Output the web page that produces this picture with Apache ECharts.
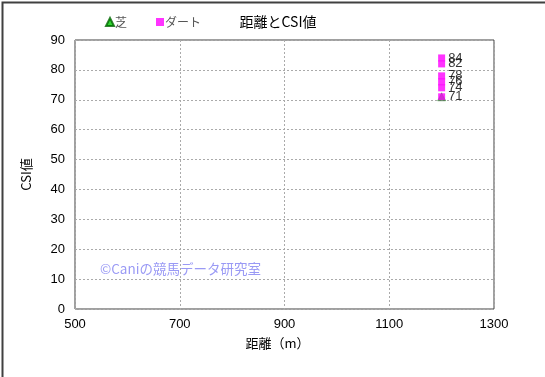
<!DOCTYPE html>
<html><head><meta charset="utf-8">
<script src="https://cdn.jsdelivr.net/npm/echarts@6/dist/echarts.min.js"></script>
<style>html,body{margin:0;padding:0;background:#fff}#c{width:545px;height:377px}</style>
</head><body><div id="c"></div>
<script>
const title = '距離とCSI値';
const seriesNames = ['芝', 'ダート'];
const turfDist = [1200];
const turfCsi = [71];
const dartDist = [1200, 1200, 1200, 1200, 1200, 1200];
const dartCsi = [84, 82, 78, 76, 74, 71];
const xName = '距離（m）';
const yName = 'CSI値';
const watermark = '©Caniの競馬データ研究室';

const font = '"Noto Sans CJK JP", "Liberation Sans", sans-serif';
const chart = echarts.init(document.getElementById('c'), null, {renderer: 'canvas'});
const pairs = (xs, ys) => xs.map((x, i) => [x, ys[i]]);
chart.setOption({
  animation: false,
  textStyle: {fontFamily: font},
  title: {text: title, left: 273, top: 10, textAlign: 'center',
    textStyle: {fontSize: 14, fontWeight: 'normal', color: '#000', fontFamily: font}},
  legend: {left: 100, top: 11, itemWidth: 8, itemHeight: 8, itemGap: 29,
    textStyle: {fontSize: 12, color: '#555', fontFamily: font, padding: [0,0,0,-4]},
    data: [{name: seriesNames[0], icon: 'triangle'}, {name: seriesNames[1], icon: 'rect'}]},
  grid: {left: 75, right: 51, top: 40, bottom: 68, show: true, borderColor: '#404040', borderWidth: 1},
  xAxis: {type: 'value', min: 500, max: 1300, interval: 200,
    name: xName, nameLocation: 'middle', nameGap: 28,
    nameTextStyle: {fontSize: 13, color: '#000', fontFamily: font, padding: [0, 14, 0, 0]},
    axisLine: {show: false}, axisTick: {show: false},
    axisLabel: {color: '#000', fontSize: 13, margin: 9, fontFamily: 'Liberation Sans', formatter: v => String(v)},
    splitLine: {show: true, lineStyle: {type: [2, 2], color: '#aaa'}}},
  yAxis: {type: 'value', min: 0, max: 90, interval: 10,
    name: yName, nameLocation: 'middle', nameGap: 42, nameRotate: 90,
    nameTextStyle: {fontSize: 13, color: '#000', fontFamily: font},
    axisLine: {show: false}, axisTick: {show: false},
    axisLabel: {color: '#000', fontSize: 13, margin: 10, fontFamily: 'Liberation Sans'},
    splitLine: {show: true, lineStyle: {type: [2, 2], color: '#aaa'}}},
  graphic: [
    {type: 'rect', left: 0, top: 0, shape: {width: 544, height: 376},
      style: {fill: 'none', stroke: '#404040', lineWidth: 2}, silent: true, z: 100},
    {type: 'text', left: 100, top: 262, z: 50,
      style: {text: watermark, fontSize: 13.5, fill: '#9a9af5', fontFamily: font}}
  ],
  series: [
    {name: seriesNames[0], type: 'scatter', symbol: 'triangle', symbolSize: 8,
      itemStyle: {color: '#00cc00', borderColor: '#006600', borderWidth: 0.5},
      data: pairs(turfDist, turfCsi),
      label: {show: false}},
    {name: seriesNames[1], type: 'scatter', symbol: 'rect', symbolSize: 7,
      itemStyle: {color: '#ff00ff'},
      data: pairs(dartDist, dartCsi),
      label: {show: true, position: 'right', distance: 3, color: '#000', fontSize: 13,
        fontFamily: 'Liberation Sans', formatter: p => p.value[1]},
      labelLayout: {hideOverlap: false}}
  ]
});
</script></body></html>
